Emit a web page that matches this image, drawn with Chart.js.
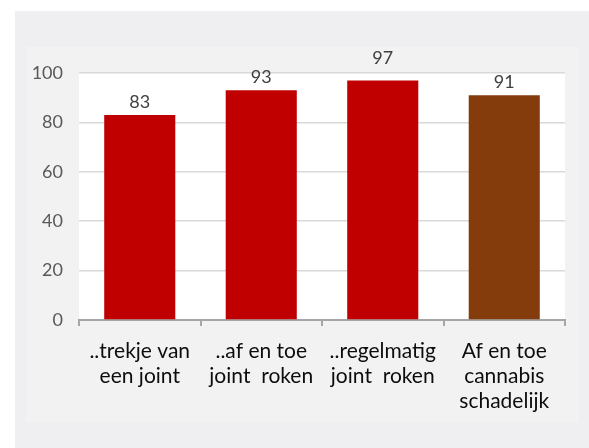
<!DOCTYPE html>
<html>
<head>
<meta charset="utf-8">
<script src="https://cdn.jsdelivr.net/npm/chart.js@4/dist/chart.umd.min.js"></script>
<style>
  html, body { margin: 0; padding: 0; background: #fff; }
  #wrap { width: 589px; height: 448px; }
</style>
</head>
<body>
<div id="wrap"><canvas id="chart" width="589" height="448"></canvas></div>
<script>
/* ---------- data ---------- */
const categories = [
    ["..trekje van", "een joint"],
    ["..af en toe", "joint  roken"],
    ["..regelmatig", "joint  roken"],
    ["Af en toe", "cannabis", "schadelijk"]
];
const values = [83, 93, 97, 91];
const barColors = ["#C00000", "#C00000", "#C00000", "#843C0C"];
const yTicks = [0, 20, 40, 60, 80, 100];

const FONT = "Lato, 'Open Sans', sans-serif";

/* backgrounds: outer panel, inner panel, white plot area */
const backgroundPlugin = {
    id: "panelBg",
    beforeDraw(chart) {
        const ctx = chart.ctx;
        const a = chart.chartArea;
        ctx.save();
        ctx.fillStyle = "#ffffff";
        ctx.fillRect(0, 0, chart.width, chart.height);
        ctx.fillStyle = "#efeff1";
        ctx.fillRect(15, 11, chart.width - 15, chart.height - 11);
        ctx.fillStyle = "#f2f2f2";
        ctx.fillRect(26, 47, 579 - 26, 422 - 47);
        ctx.fillStyle = "#ffffff";
        ctx.fillRect(a.left, a.top, a.right - a.left, a.bottom - a.top);
        ctx.restore();
    }
};

/* value labels above bars (pushed above the top gridline if they would cross it) */
const valueLabels = {
    id: "valueLabels",
    afterDatasetsDraw(chart) {
        const ctx = chart.ctx;
        const top = chart.chartArea.top;
        const meta = chart.getDatasetMeta(0);
        ctx.save();
        ctx.font = "18px " + FONT;
        ctx.fillStyle = "#404040";
        ctx.textAlign = "center";
        ctx.textBaseline = "bottom";
        meta.data.forEach((bar, i) => {
            let y = bar.y - 4;
            if (y - 12 < top && y > top) y = top - 6;
            ctx.fillText(String(values[i]), bar.x, y);
        });
        ctx.restore();
    }
};

new Chart(document.getElementById("chart"), {
    type: "bar",
    data: {
        labels: categories,
        datasets: [{
            data: values,
            backgroundColor: barColors,
            borderWidth: 0,
            barPercentage: 0.585,
            categoryPercentage: 1
        }]
    },
    options: {
        responsive: false,
        animation: false,
        events: [],
        layout: { padding: { top: 73, right: 24, left: 0, bottom: 0 } },
        plugins: {
            legend: { display: false },
            tooltip: { enabled: false }
        },
        scales: {
            x: {
                afterFit: (s) => { s.height = 128; },
                grid: {
                    offset: true,
                    drawOnChartArea: false,
                    drawTicks: true,
                    tickLength: 6,
                    color: "#a6a6a6",
                    lineWidth: 2
                },
                border: { display: true, color: "#a6a6a6", width: 2 },
                ticks: {
                    color: "#0d0d0d",
                    font: { family: FONT, size: 21, lineHeight: 1.19 },
                    padding: 13,
                    maxRotation: 0,
                    autoSkip: false
                }
            },
            y: {
                min: 0,
                max: 100,
                afterFit: (s) => { s.width = 79; },
                afterBuildTicks: (s) => { s.ticks = yTicks.map(v => ({ value: v })); },
                grid: {
                    color: "#d9d9d9",
                    lineWidth: 1.5,
                    drawTicks: false
                },
                border: { display: false },
                ticks: {
                    color: "#595959",
                    font: { family: FONT, size: 18 },
                    padding: 16
                }
            }
        }
    },
    plugins: [backgroundPlugin, valueLabels]
});
</script>
</body>
</html>
